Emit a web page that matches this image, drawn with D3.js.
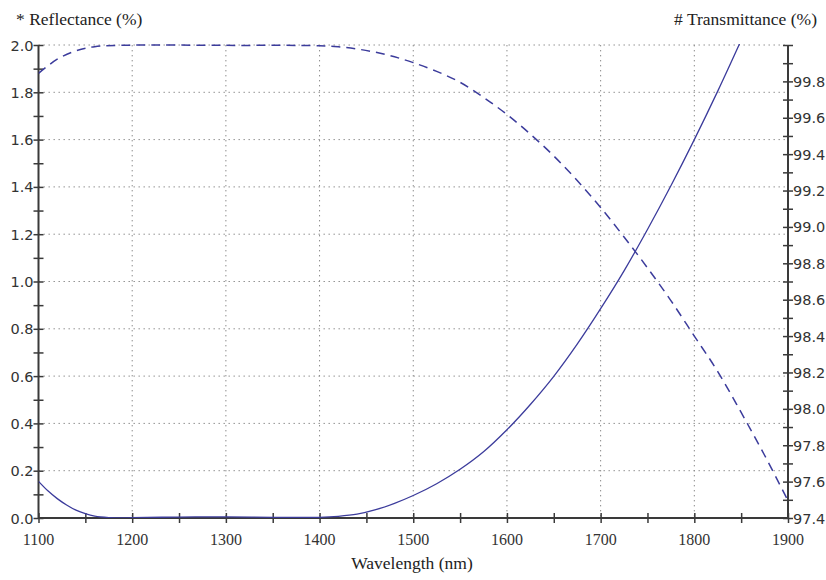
<!DOCTYPE html>
<title>Reflectance and transmittance</title>
<meta charset="utf-8">
<style>
  body { margin: 0; background: #fff; }
  .title { font: 17.5px "Liberation Serif", serif; fill: #222; }
  .ytick { font: 14.5px "DejaVu Sans", sans-serif; fill: #333; }
  .xtick { font: 16px "Liberation Serif", serif; fill: #333; }
  .grid line { stroke: #8a8a8a; stroke-width: 1; stroke-dasharray: 1.4,3.6; }
  .axisline { stroke: #3a3a3a; stroke-width: 2; fill: none; }
  .tick line { stroke: #3a3a3a; stroke-width: 1.5; }
  .refl { fill: none; stroke: #3c3c9c; stroke-width: 1.3; }
  .trans { fill: none; stroke: #3c3c9c; stroke-width: 1.5; stroke-dasharray: 9,6; }
</style>
<body>
<div id="chart"></div>
<script src="https://d3js.org/d3.v7.min.js"></script>
<script>
// reflectance (%), left axis
var reflWl  = [1100, 1110, 1120, 1130, 1140, 1150, 1160, 1175, 1190, 1200, 1250, 1300, 1350, 1400,
               1420, 1440, 1460, 1480, 1500, 1525, 1550, 1575, 1600, 1625, 1650, 1675, 1700, 1725,
               1750, 1775, 1800, 1825, 1850];
var reflVal = [0.155, 0.115, 0.082, 0.055, 0.033, 0.018, 0.008, 0.002, 0.0, 0.001, 0.004, 0.005, 0.003, 0.003,
               0.007, 0.016, 0.035, 0.062, 0.095, 0.145, 0.206, 0.28, 0.373, 0.48, 0.599, 0.735, 0.885, 1.045,
               1.22, 1.405, 1.60, 1.805, 2.02];

// transmittance (%), right axis
var transWl  = [1100, 1120, 1140, 1160, 1200, 1300, 1400, 1420, 1440, 1460, 1480, 1500, 1525, 1550,
                1575, 1600, 1625, 1650, 1675, 1700, 1725, 1750, 1775, 1800, 1825, 1850, 1875, 1900];
var transVal = [99.844, 99.922, 99.968, 99.991, 99.999, 99.998, 99.996, 99.99, 99.978, 99.96, 99.935, 99.903, 99.855, 99.795,
                99.712, 99.618, 99.51, 99.39, 99.255, 99.107, 98.945, 98.775, 98.595, 98.40, 98.205, 97.98, 97.745, 97.495];

var xTicks = [1100, 1200, 1300, 1400, 1500, 1600, 1700, 1800, 1900];
var leftTicks = [0.0, 0.2, 0.4, 0.6, 0.8, 1.0, 1.2, 1.4, 1.6, 1.8, 2.0];
var rightTicks = [97.4, 97.6, 97.8, 98.0, 98.2, 98.4, 98.6, 98.8, 99.0, 99.2, 99.4, 99.6, 99.8];

var W = 826, H = 580;
var margin = {top: 45, right: 38, bottom: 62, left: 38.5};
var width = W - margin.left - margin.right,
    height = H - margin.top - margin.bottom;

var svg = d3.select("#chart").append("svg")
    .attr("width", W).attr("height", H);

var g = svg.append("g")
    .attr("transform", "translate(" + margin.left + "," + margin.top + ")");

var x = d3.scaleLinear().domain([1100, 1900]).range([0, width]);
var yL = d3.scaleLinear().domain([0, 2]).range([height, 0]);
var yR = d3.scaleLinear().domain([97.4, 100]).range([height, 0]);

// dotted grid
var grid = g.append("g").attr("class", "grid");
grid.selectAll(".v").data(xTicks.slice(1, -1)).enter().append("line")
    .attr("x1", d => x(d)).attr("x2", d => x(d))
    .attr("y1", 0).attr("y2", height);
grid.selectAll(".h").data(leftTicks.slice(1)).enter().append("line")
    .attr("x1", 0).attr("x2", width)
    .attr("y1", d => yL(d)).attr("y2", d => yL(d));

// axes: ticks cross the axis line
var xAxis = d3.axisBottom(x).tickValues(d3.range(1100, 1901, 50))
    .tickSizeInner(5).tickSizeOuter(0).tickFormat("");
g.append("g").attr("transform", "translate(0," + height + ")").call(xAxis)
  .call(a => a.select(".domain").remove())
  .selectAll(".tick line").attr("y1", -5);

var yAxisL = d3.axisLeft(yL).tickValues(d3.range(0, 2.01, 0.1))
    .tickSizeInner(5).tickSizeOuter(0).tickFormat("");
g.append("g").call(yAxisL)
  .call(a => a.select(".domain").remove())
  .selectAll(".tick line").attr("x1", 5);

var yAxisR = d3.axisRight(yR).tickValues(d3.range(97.4, 100.01, 0.1))
    .tickSizeInner(5).tickSizeOuter(0).tickFormat("");
g.append("g").attr("transform", "translate(" + width + ",0)").call(yAxisR)
  .call(a => a.select(".domain").remove())
  .selectAll(".tick line").attr("x1", -5);

g.append("path").attr("class", "axisline")
    .attr("d", "M0,0V" + height + "H" + width + "V0");

// tick labels
g.selectAll(".xl").data(xTicks).enter().append("text")
    .attr("class", "xtick").attr("text-anchor", "middle")
    .attr("x", d => x(d)).attr("y", height + 27)
    .text(d => d);
g.selectAll(".ll").data(leftTicks).enter().append("text")
    .attr("class", "ytick").attr("text-anchor", "end")
    .attr("x", -5).attr("y", d => yL(d) + 5.5)
    .text(d => d.toFixed(1));
g.selectAll(".rl").data(rightTicks).enter().append("text")
    .attr("class", "ytick").attr("text-anchor", "start")
    .attr("x", width + 5).attr("y", d => yR(d) + 5.5)
    .text(d => d.toFixed(1));

// titles
svg.append("text").attr("class", "title").attr("x", 16).attr("y", 25).text("* Reflectance (%)");
svg.append("text").attr("class", "title").attr("text-anchor", "end")
    .attr("x", 817).attr("y", 25).text("# Transmittance (%)");
svg.append("text").attr("class", "title").attr("text-anchor", "middle")
    .attr("x", 412).attr("y", 569).text("Wavelength (nm)");

// curves
g.append("clipPath").attr("id", "clip").append("rect")
    .attr("x", 0).attr("y", -1).attr("width", width).attr("height", height + 1);

var reflData = reflWl.map((w, i) => [w, reflVal[i]]);
var transData = transWl.map((w, i) => [w, transVal[i]]);

g.append("path").attr("class", "refl").attr("clip-path", "url(#clip)")
    .attr("d", d3.line().curve(d3.curveCatmullRom)
      .x(d => x(d[0])).y(d => yL(d[1]))(reflData));

g.append("path").attr("class", "trans").attr("clip-path", "url(#clip)")
    .attr("d", d3.line().curve(d3.curveCatmullRom)
      .x(d => x(d[0])).y(d => yR(d[1]))(transData));
</script>
</body>
